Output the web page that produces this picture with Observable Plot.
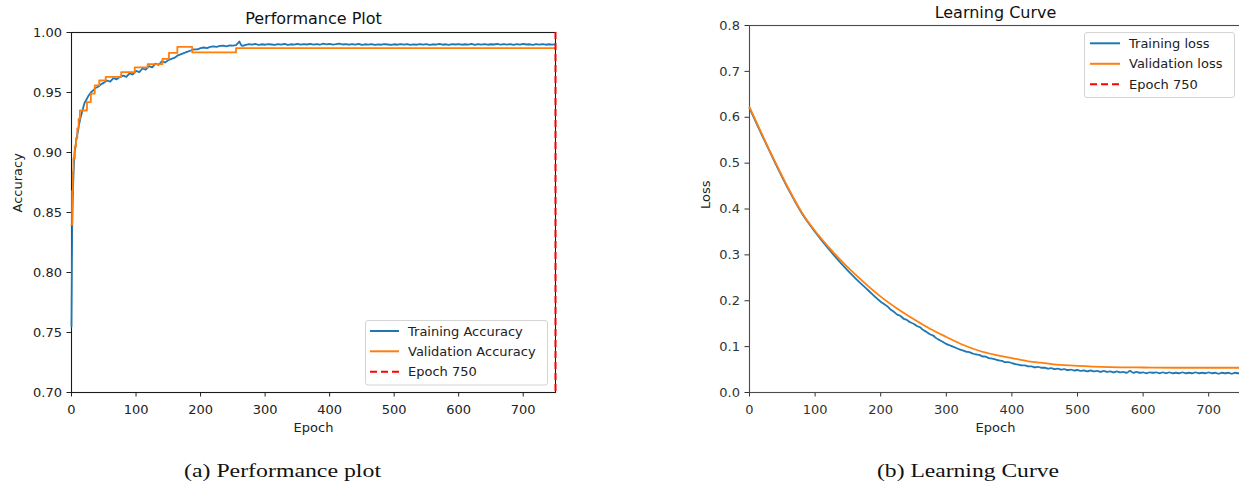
<!DOCTYPE html>
<html>
<head>
<meta charset="utf-8">
<script src="https://cdn.jsdelivr.net/npm/d3@7"></script>
<script src="https://cdn.jsdelivr.net/npm/@observablehq/plot@0.6"></script>
<style>
  html, body { margin: 0; padding: 0; background: #fff; }
  body { width: 1239px; height: 486px; position: relative; overflow: hidden; font-family: "DejaVu Sans", sans-serif; }
  .chart { position: absolute; top: 0; }
  .chart svg { max-width: none !important; }
  #overlay { position: absolute; left: 0; top: 0; pointer-events: none; }
</style>
</head>
<body>
<div id="left" class="chart" style="left:0px;width:560px"></div>
<div id="right" class="chart" style="left:620px;width:625px"></div>
<svg id="overlay" width="1239" height="486"></svg>
<script>
// ---------- data ----------
const xTicks = [0, 100, 200, 300, 400, 500, 600, 700];
const accTicks = [0.70, 0.75, 0.80, 0.85, 0.90, 0.95, 1.00];
const lossTicks = [0.0, 0.1, 0.2, 0.3, 0.4, 0.5, 0.6, 0.7, 0.8];
const markerEpoch = [750];

// Training accuracy [epoch, value]
const trainAcc = [
  [0,0.755],[1,0.835],[2,0.862],[3,0.880],[4,0.893],[5,0.901],[6,0.904],[7,0.909],[8,0.912],
  [10,0.918],[12,0.924],[14,0.929],[16,0.933],[18,0.937],[20,0.941],[23,0.944],[26,0.947],
  [30,0.950],[34,0.952],[38,0.954],[42,0.955],[46,0.957],[50,0.958],
  [55,0.960],[60,0.959],[65,0.962],[70,0.961],[75,0.963],[80,0.964],[85,0.963],[90,0.966],[95,0.965],[100,0.968],
  [105,0.967],[110,0.970],[115,0.969],[120,0.972],[125,0.971],[130,0.974],[135,0.973],[140,0.976],[145,0.975],[150,0.977],
  [155,0.978],[160,0.979],[165,0.981],[170,0.982],[175,0.983],[180,0.984],[185,0.985],[190,0.986],[195,0.986],[200,0.987],
  [205,0.9875],[210,0.987],[215,0.988],[220,0.9885],[225,0.988],[230,0.9888],[235,0.989],[240,0.9885],[245,0.9892],[250,0.989],
  [255,0.9895],[260,0.9925],[263,0.9895],[265,0.9888],
  [270,0.9897],[275,0.9903],[280,0.9899],[285,0.9905],[290,0.9896],[295,0.9902],[300,0.9898],[305,0.9904],[310,0.9900],[315,0.9896],
  [320,0.9903],[325,0.9899],[330,0.9906],[335,0.9897],[340,0.9902],[345,0.9899],[350,0.9905],[355,0.9898],[360,0.9903],[365,0.9900],
  [370,0.9906],[375,0.9899],[380,0.9904],[385,0.9898],[390,0.9907],[395,0.9901],[400,0.9905],[405,0.9899],[410,0.9903],[415,0.9908],
  [420,0.9900],[425,0.9904],[430,0.9898],[435,0.9903],[440,0.9899],[445,0.9905],[450,0.9897],[455,0.9902],[460,0.9899],[465,0.9904],
  [470,0.9896],[475,0.9901],[480,0.9898],[485,0.9904],[490,0.9900],[495,0.9896],[500,0.9902],[505,0.9898],[510,0.9904],[515,0.9899],
  [520,0.9903],[525,0.9897],[530,0.9901],[535,0.9898],[540,0.9904],[545,0.9899],[550,0.9903],[555,0.9897],[560,0.9902],[565,0.9899],
  [570,0.9905],[575,0.9898],[580,0.9902],[585,0.9897],[590,0.9903],[595,0.9900],[600,0.9904],[605,0.9898],[610,0.9902],[615,0.9899],
  [620,0.9905],[625,0.9897],[630,0.9903],[635,0.9899],[640,0.9904],[645,0.9898],[650,0.9902],[655,0.9900],[660,0.9906],[665,0.9898],
  [670,0.9903],[675,0.9899],[680,0.9904],[685,0.9897],[690,0.9903],[695,0.9899],[700,0.9905],[705,0.9900],[710,0.9902],[715,0.9897],
  [720,0.9903],[725,0.9899],[730,0.9904],[735,0.9898],[740,0.9902],[745,0.9899],[749,0.9901]
];

// Validation accuracy (stepwise) [epoch, value]
const valAcc = [
  [0,0.840],[1,0.868],[2,0.884],[3,0.895],[5,0.905],[7,0.912],[9,0.920],[11,0.928],[13,0.935],
  [24,0.942],[30,0.949],[36,0.956],[43,0.960],[53,0.963],[77,0.967],[98,0.971],[118,0.9736],
  [141,0.978],[151,0.983],[164,0.988],[187,0.9835],[255,0.987],[749,0.987]
];

// Training loss [epoch, value]
const trainLoss = [
  [0,0.620],[20,0.558],[40,0.498],[60,0.441],[80,0.390],[100,0.350],[120,0.314],[140,0.281],[160,0.251],[180,0.224],
  [200,0.198],[205,0.193],[210,0.188],[215,0.181],[220,0.176],[225,0.170],[230,0.167],[235,0.161],[240,0.158],[245,0.153],
  [250,0.150],[255,0.145],[260,0.142],[265,0.136],[270,0.132],[275,0.127],[280,0.124],[285,0.118],[290,0.114],[295,0.110],
  [300,0.106],[305,0.103],[310,0.100],[315,0.097],[320,0.094],[325,0.092],[330,0.089],[335,0.088],[340,0.085],[345,0.083],
  [350,0.082],[355,0.079],[360,0.078],[365,0.075],[370,0.074],[375,0.072],[380,0.070],[385,0.069],[390,0.066],[395,0.066],
  [400,0.064],[405,0.062],[410,0.061],[415,0.059],[420,0.059],[425,0.057],[430,0.057],[435,0.055],[440,0.056],[445,0.054],
  [450,0.054],[455,0.052],[460,0.053],[465,0.051],[470,0.052],[475,0.050],[480,0.051],[485,0.049],[490,0.050],[495,0.048],
  [500,0.049],[505,0.047],[510,0.048],[515,0.046],[520,0.048],[525,0.046],[530,0.047],[535,0.045],[540,0.047],[545,0.045],
  [550,0.046],[555,0.044],[560,0.046],[565,0.044],[570,0.045],[575,0.043],[580,0.047],[585,0.043],[590,0.045],[595,0.043],
  [600,0.044],[605,0.042],[610,0.044],[615,0.043],[620,0.044],[625,0.042],[630,0.044],[635,0.042],[640,0.044],[645,0.042],
  [650,0.043],[655,0.042],[660,0.044],[665,0.042],[670,0.043],[675,0.042],[680,0.044],[685,0.042],[690,0.043],[695,0.042],
  [700,0.044],[705,0.042],[710,0.043],[715,0.041],[720,0.043],[725,0.042],[730,0.043],[735,0.041],[740,0.043],[745,0.042],[749,0.042]
];

// Validation loss [epoch, value]
const valLoss = [
  [0,0.622],[20,0.560],[40,0.500],[60,0.443],[80,0.392],[100,0.352],[120,0.318],[140,0.287],[160,0.259],[180,0.233],
  [200,0.209],[225,0.183],[250,0.160],[275,0.139],[300,0.121],[325,0.104],[350,0.091],[375,0.082],[400,0.075],[425,0.068],
  [450,0.064],[475,0.060],[500,0.058],[550,0.0555],[600,0.0545],[650,0.054],[700,0.054],[749,0.054]
];

const accLegend = ["Training Accuracy", "Validation Accuracy", "Epoch 750"];
const lossLegend = ["Training loss", "Validation loss", "Epoch 750"];
const captions = ["(a) Performance plot", "(b) Learning Curve"];

// ---------- styles ----------
const BLUE = "#1f77b4", ORANGE = "#ff7f0e", RED = "#ff0000";
const FONT = "DejaVu Sans, sans-serif";

const rows = arr => arr.map(([epoch, value]) => ({epoch, value}));

const left = Plot.plot({
  width: 560, height: 440,
  marginLeft: 71, marginRight: 5, marginTop: 32, marginBottom: 48,
  style: {fontFamily: FONT, fontSize: "13px", color: "#222", background: "transparent", overflow: "visible", maxWidth: "none"},
  x: {domain: [0, 750], ticks: xTicks, tickFormat: d3.format("d"), tickSize: 4.5, tickPadding: 7.5, label: null},
  y: {domain: [0.70, 1.00], ticks: accTicks, tickFormat: d3.format(".2f"), tickSize: 4.5, tickPadding: 5, label: null},
  marks: [
    Plot.frame({stroke: "#1a1a1a", strokeWidth: 1.1}),
    Plot.line(rows(trainAcc), {x: "epoch", y: "value", stroke: BLUE, strokeWidth: 1.8}),
    Plot.line(rows(valAcc), {x: "epoch", y: "value", stroke: ORANGE, strokeWidth: 1.8, curve: "step-after"}),
    Plot.ruleX(markerEpoch, {stroke: RED, strokeWidth: 2, strokeDasharray: "7,4"}),
    Plot.text(["Performance Plot"], {text: d => d, frameAnchor: "top", dy: -9, lineAnchor: "bottom", fontSize: 16, fill: "#111"}),
    Plot.text(["Epoch"], {text: d => d, frameAnchor: "bottom", dy: 35, lineAnchor: "middle", fontSize: 13, fill: "#222"}),
    Plot.text(["Accuracy"], {text: d => d, frameAnchor: "left", dx: -54, rotate: -90, lineAnchor: "middle", fontSize: 13, fill: "#222"})
  ]
});
document.getElementById("left").appendChild(left);

const right = Plot.plot({
  width: 625, height: 440,
  marginLeft: 129, marginRight: 4, marginTop: 25, marginBottom: 48,
  style: {fontFamily: FONT, fontSize: "13px", color: "#333", background: "transparent", overflow: "visible", maxWidth: "none"},
  x: {domain: [0, 750], ticks: xTicks, tickFormat: d3.format("d"), tickSize: 4.5, tickPadding: 7.5, label: null},
  y: {domain: [0, 0.8], ticks: lossTicks, tickFormat: d3.format(".1f"), tickSize: 4.5, tickPadding: 5, label: null},
  marks: [
    Plot.frame({stroke: "#4a4a4a", strokeWidth: 1.1}),
    Plot.line(rows(trainLoss), {x: "epoch", y: "value", stroke: BLUE, strokeWidth: 1.8, curve: "monotone-x"}),
    Plot.line(rows(valLoss), {x: "epoch", y: "value", stroke: ORANGE, strokeWidth: 1.8, curve: "monotone-x"}),
    Plot.ruleX(markerEpoch, {stroke: RED, strokeWidth: 2, strokeDasharray: "7,4"}),
    Plot.text(["Learning Curve"], {text: d => d, frameAnchor: "top", dy: -8, lineAnchor: "bottom", fontSize: 16, fill: "#111"}),
    Plot.text(["Epoch"], {text: d => d, frameAnchor: "bottom", dy: 35, lineAnchor: "middle", fontSize: 13, fill: "#222"}),
    Plot.text(["Loss"], {text: d => d, frameAnchor: "left", dx: -44, rotate: -90, lineAnchor: "middle", fontSize: 13, fill: "#222"})
  ]
});
document.getElementById("right").appendChild(right);

// ---------- legends and captions (overlay) ----------
const ov = d3.select("#overlay");
function legend(labels, box, sx0, sx1, tx, ys) {
  const g = ov.append("g");
  g.append("rect").attr("x", box[0]).attr("y", box[1]).attr("width", box[2]).attr("height", box[3])
    .attr("rx", 2.5).attr("fill", "#fff").attr("fill-opacity", 0.8).attr("stroke", "#d4d4d4").attr("stroke-width", 1);
  const colors = [BLUE, ORANGE, RED];
  labels.forEach((lab, i) => {
    g.append("line").attr("x1", sx0).attr("x2", sx1).attr("y1", ys[i]).attr("y2", ys[i])
      .attr("stroke", colors[i]).attr("stroke-width", 2).attr("stroke-dasharray", i === 2 ? "7,4" : null);
    g.append("text").attr("x", tx).attr("y", ys[i]).attr("dy", "0.36em")
      .attr("font-family", FONT).attr("font-size", 13).attr("fill", "#222").text(lab);
  });
}
legend(accLegend, [365.5, 320.5, 182, 64.5], 370, 399, 408, [331, 351.3, 371.7]);
legend(lossLegend, [1084.5, 32.5, 150, 65], 1090, 1120, 1129, [43.3, 63.8, 84.3]);

ov.append("text").attr("x", 184).attr("y", 477).attr("font-family", "Liberation Serif, Times New Roman, serif")
  .attr("font-size", 19.5).attr("fill", "#111").attr("textLength", 197).attr("lengthAdjust", "spacingAndGlyphs").text(captions[0]);
ov.append("text").attr("x", 877).attr("y", 477).attr("font-family", "Liberation Serif, Times New Roman, serif")
  .attr("font-size", 19.5).attr("fill", "#111").attr("textLength", 182).attr("lengthAdjust", "spacingAndGlyphs").text(captions[1]);
</script>
</body>
</html>
